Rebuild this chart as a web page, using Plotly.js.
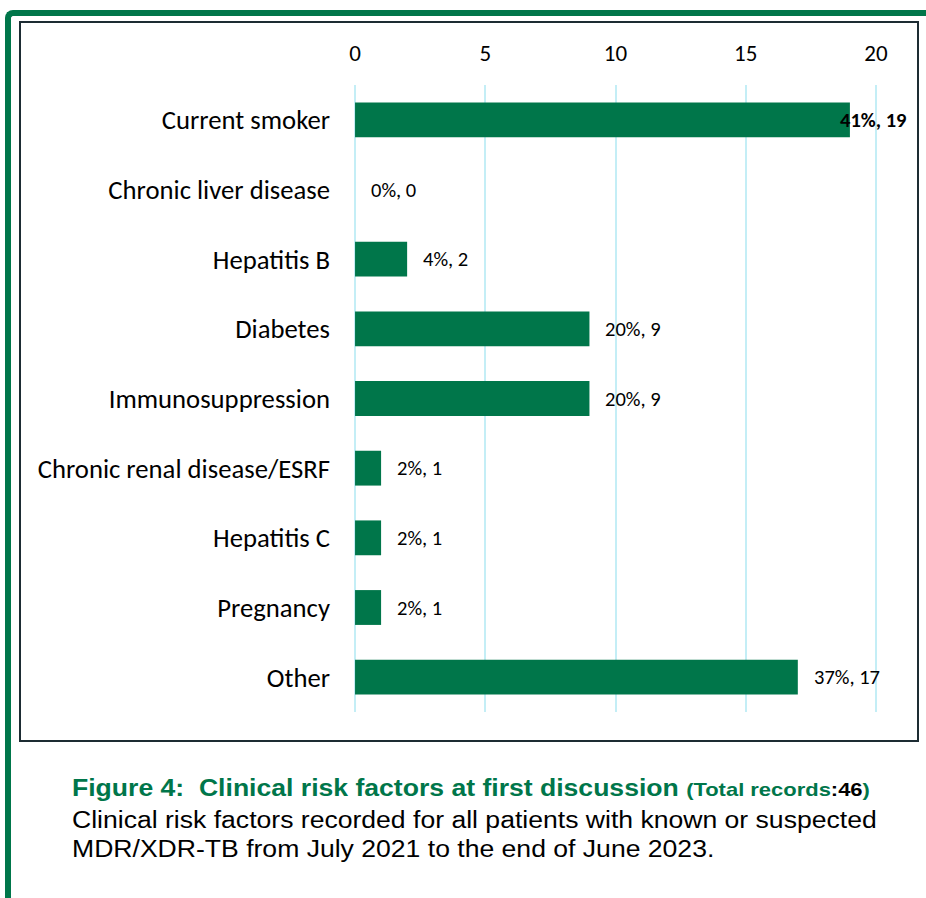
<!DOCTYPE html>
<html>
<head>
<meta charset="utf-8">
<script src="https://cdn.plot.ly/plotly-3.0.1.min.js"></script>
<style>
  html, body { margin:0; padding:0; background:#fff; width:926px; height:898px; overflow:hidden; }
  #frame { position:absolute; left:5px; top:10px; width:960px; height:960px;
           border-top:6px solid #00764a; border-left:6px solid #00764a; border-top-left-radius:8px; box-sizing:border-box; }
  #box { position:absolute; left:19px; top:21px; width:900px; height:721px;
         border:2px solid #1d2c33; box-sizing:border-box; }
  #chart { position:absolute; left:0; top:0; width:926px; height:898px; }
  .cap { position:absolute; left:72px; font-family:"Liberation Sans", Arial, sans-serif; font-size:23px; white-space:nowrap;
         transform:scaleX(1.155); transform-origin:left top; }
  #cap1 { top:775px; color:#00764a; font-weight:bold; }
  #cap1 .small { font-size:19px; }
  #cap1 .blk { color:#000; }
  #cap2 { top:806px; color:#000; line-height:29px; }
</style>
</head>
<body>
<div id="frame"></div>
<div id="box"></div>
<div id="chart"></div>
<div id="cap1" class="cap">Figure 4:&nbsp; Clinical risk factors at first discussion <span class="small">(Total records<span class="blk">:46</span>)</span></div>
<div id="cap2" class="cap">Clinical risk factors recorded for all patients with known or suspected<br>MDR/XDR-TB from July 2021 to the end of June 2023.</div>
<script>
const categories = ["Current smoker","Chronic liver disease","Hepatitis B","Diabetes","Immunosuppression","Chronic renal disease/ESRF","Hepatitis C","Pregnancy","Other"];
const counts = [19, 0, 2, 9, 9, 1, 1, 1, 17];
const percents = ["41%","0%","4%","20%","20%","2%","2%","2%","37%"];
const tickVals = [0, 5, 10, 15, 20];

const green = "#00764a";
const font = "Carlito, Lato, 'Open Sans', sans-serif";

const labels = categories.map((c, i) => percents[i] + ", " + counts[i]);
const maxCount = Math.max(...counts);
const annotations = categories.map((c, i) => {
  const isMax = counts[i] === maxCount;
  return {
    x: counts[i], y: c, xref: "x", yref: "y",
    text: isMax ? "<b>" + labels[i] + "</b>" : labels[i],
    showarrow: false, xanchor: "left", yanchor: "middle",
    xshift: isMax ? -12 : 14,
    font: {family: font, size: 20.5, color: "#000"}
  };
});

const trace = {
  type: "bar", orientation: "h",
  x: counts, y: categories,
  marker: {color: green, line: {width: 0}},
  hoverinfo: "none"
};

const layout = {
  width: 926, height: 898,
  margin: {l: 354, r: 49, t: 85, b: 186},
  paper_bgcolor: "rgba(0,0,0,0)", plot_bgcolor: "rgba(0,0,0,0)",
  bargap: 0.5,
  showlegend: false,
  xaxis: {
    side: "top", range: [-0.04, 20.04], tickvals: tickVals, ticktext: tickVals.map(String),
    showgrid: true, gridcolor: "#c4eef6", gridwidth: 2,
    zeroline: false, showline: false, ticks: "",
    tickfont: {family: font, size: 23, color: "#000"},
    ticklabelstandoff: 18, fixedrange: true
  },
  yaxis: {
    autorange: "reversed", type: "category",
    showgrid: false, zeroline: false, showline: false, ticks: "",
    tickfont: {family: font, size: 26.7, color: "#000"},
    ticklabelstandoff: 23, fixedrange: true
  },
  annotations: annotations
};

Plotly.newPlot("chart", [trace], layout, {displayModeBar: false, staticPlot: true});
</script>
</body>
</html>
